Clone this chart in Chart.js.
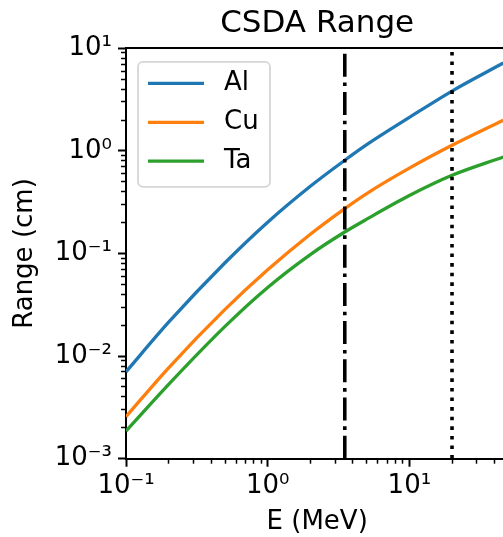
<!DOCTYPE html>
<html>
<head>
<meta charset="utf-8">
<script src="https://cdn.jsdelivr.net/npm/chart.js@4.4.0/dist/chart.umd.min.js"></script>
<style>
html, body { margin: 0; padding: 0; overflow: hidden; background: #fff; }
canvas { display: block; }
</style>
</head>
<body>
<canvas id="csda" width="512" height="537"></canvas>
<script>
// values (MeV, cm)
const energy  = [0.1, 0.2, 0.5, 1, 2, 3.5, 5, 10, 20, 46];
const rangeAl = [0.00703, 0.0214, 0.0812, 0.2018, 0.452, 0.81, 1.15, 2.12, 3.83, 7.18];
const rangeCu = [0.00257, 0.00769, 0.0285, 0.0693, 0.154, 0.274, 0.384, 0.679, 1.134, 1.99];
const rangeTa = [0.00186, 0.00531, 0.0195, 0.0467, 0.0977, 0.162, 0.216, 0.367, 0.578, 0.872];
const materials = ['Al', 'Cu', 'Ta'];
const colors = ['#1f77b4', '#ff7f0e', '#2ca02c'];
const markerE = [3.5, 20];
const xMajor = [0.1, 1, 10];
const yMajor = [0.001, 0.01, 0.1, 1, 10];
const xLim = [0.1, 50];
const yLim = [0.001, 10];

const FONT = 'DejaVu Sans';
const sup = {'-': '\u207B', '0': '\u2070', '1': '\u00B9', '2': '\u00B2', '3': '\u00B3'};
function powLabel(v) {
  const e = String(Math.round(Math.log10(v)));
  return '10' + e.split('').map(c => sup[c]).join('');
}
function minorTicks(majors, max) {
  const out = [];
  majors.forEach(d => { for (let k = 2; k <= 9; k++) if (k * d < max) out.push(k * d); });
  return out;
}

const series = [rangeAl, rangeCu, rangeTa];
const datasets = series.map((s, i) => ({
  label: materials[i],
  data: energy.map((e, j) => ({x: e, y: s[j]})),
  borderColor: colors[i],
  borderWidth: 3.3,
  pointRadius: 0,
  cubicInterpolationMode: 'monotone',
  fill: false
}));
datasets.push({
  label: '', order: -1,
  data: [{x: markerE[0], y: yLim[0]}, {x: markerE[0], y: yLim[1]}],
  borderColor: '#000', borderWidth: 3.6, borderDash: [23, 5.8, 3.6, 5.8], pointRadius: 0
});
datasets.push({
  label: '', order: -1,
  data: [{x: markerE[1], y: yLim[0]}, {x: markerE[1], y: yLim[1]}],
  borderColor: '#000', borderWidth: 3.6, borderDash: [3.6, 6], pointRadius: 0
});

// right spine (falls just outside the window, as in the cropped original)
const frame = {
  id: 'frame',
  afterDraw(chart) {
    const {ctx, chartArea: a} = chart;
    ctx.save();
    ctx.strokeStyle = '#000';
    ctx.lineWidth = 2;
    ctx.beginPath();
    ctx.moveTo(a.right, a.top - 1);
    ctx.lineTo(a.right, a.bottom + 1);
    ctx.stroke();
    ctx.restore();
  }
};

// matplotlib-style legend box
const legendBox = {
  id: 'legendBox',
  afterDraw(chart) {
    const {ctx, chartArea: a} = chart;
    const x0 = a.left + 12, y0 = a.top + 13.5, w = 132, h = 125, r = 5;
    ctx.save();
    ctx.beginPath();
    ctx.roundRect(x0, y0, w, h, r);
    ctx.fillStyle = 'rgba(255,255,255,0.8)';
    ctx.fill();
    ctx.strokeStyle = '#d6d6d6';
    ctx.lineWidth = 1.8;
    ctx.stroke();
    ctx.font = '26px "' + FONT + '"';
    ctx.textBaseline = 'middle';
    ctx.fillStyle = '#000';
    materials.forEach((m, i) => {
      const y = y0 + 21.6 + i * 38.9;
      ctx.beginPath();
      ctx.moveTo(x0 + 10, y);
      ctx.lineTo(x0 + 66, y);
      ctx.strokeStyle = colors[i];
      ctx.lineWidth = 3.3;
      ctx.stroke();
      ctx.fillText(m, x0 + 86, y);
    });
    ctx.restore();
  }
};

const tickFont = {family: FONT, size: 26};

new Chart(document.getElementById('csda').getContext('2d'), {
  type: 'line',
  data: {datasets: datasets},
  options: {
    responsive: false,
    animation: false,
    devicePixelRatio: 1,
    layout: {padding: {left: 0, right: 3.6, top: 0, bottom: 0}},
    plugins: {
      legend: {display: false},
      tooltip: {enabled: false},
      title: {display: false}
    },
    scales: {
      x: {
        type: 'logarithmic', position: 'bottom', min: xLim[0], max: xLim[1], weight: 1,
        afterBuildTicks: s => { s.ticks = xMajor.map(v => ({value: v})); },
        afterFit: s => { s.height = 537 - 458.7; },
        grid: {drawOnChartArea: false, tickLength: 8, tickWidth: 2, tickColor: '#000'},
        border: {color: '#000', width: 2},
        ticks: {color: '#000', font: tickFont, padding: 4, maxRotation: 0, autoSkip: false, callback: v => powLabel(v)},
        title: {display: true, text: 'E (MeV)', color: '#000', font: {family: FONT, size: 26, lineHeight: 1}, padding: {top: 0, bottom: 1.5}}
      },
      xMinor: {
        type: 'logarithmic', position: 'bottom', min: xLim[0], max: xLim[1], weight: 0,
        afterBuildTicks: s => { s.ticks = minorTicks(xMajor, xLim[1]).map(v => ({value: v})); },
        afterFit: s => { s.height = 0; },
        grid: {drawOnChartArea: false, tickLength: 5, tickWidth: 1.5, tickColor: '#000'},
        border: {display: false},
        ticks: {display: false}
      },
      xTop: {
        type: 'logarithmic', position: 'top', min: xLim[0], max: xLim[1],
        afterFit: s => { s.height = 48.3; },
        grid: {drawOnChartArea: false, drawTicks: false},
        border: {color: '#000', width: 2},
        ticks: {display: false},
        title: {display: true, text: 'CSDA Range', color: '#000', font: {family: FONT, size: 31, lineHeight: 1.2}, padding: {top: 5.6, bottom: 0}}
      },
      y: {
        type: 'logarithmic', position: 'left', min: yLim[0], max: yLim[1], weight: 1,
        afterBuildTicks: s => { s.ticks = yMajor.map(v => ({value: v})); },
        afterFit: s => { s.width = 126; },
        grid: {drawOnChartArea: false, tickLength: 8, tickWidth: 2, tickColor: '#000'},
        border: {color: '#000', width: 2},
        ticks: {color: '#000', font: tickFont, padding: 6, autoSkip: false, callback: v => powLabel(v)},
        title: {display: true, text: 'Range (cm)', color: '#000', font: {family: FONT, size: 26, lineHeight: 1}, padding: {top: 12, bottom: 0}}
      },
      yMinor: {
        type: 'logarithmic', position: 'left', min: yLim[0], max: yLim[1], weight: 0,
        afterBuildTicks: s => { s.ticks = minorTicks(yMajor, yLim[1]).map(v => ({value: v})); },
        afterFit: s => { s.width = 0; },
        grid: {drawOnChartArea: false, tickLength: 5, tickWidth: 1.5, tickColor: '#000'},
        border: {display: false},
        ticks: {display: false}
      }
    }
  },
  plugins: [frame, legendBox]
});
</script>
</body>
</html>
